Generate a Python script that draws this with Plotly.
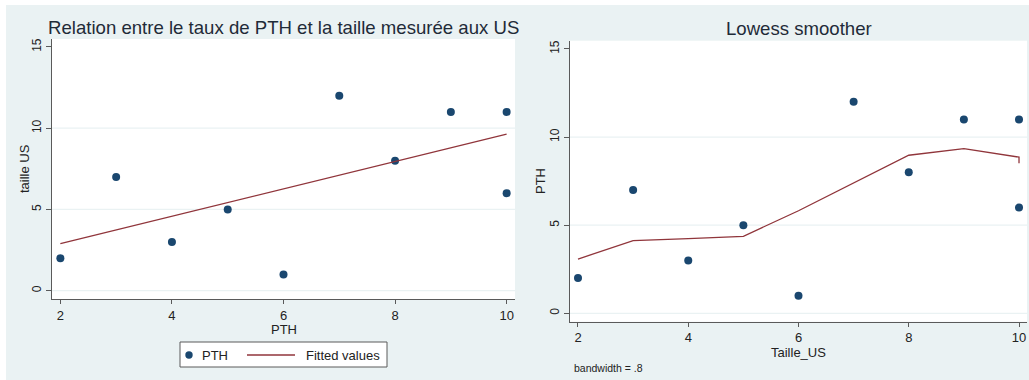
import plotly.graph_objects as go

# Observations: PTH level vs ultrasound size
pth = [2, 3, 4, 5, 6, 7, 8, 9, 10, 10]
taille_us = [2, 7, 3, 5, 1, 12, 8, 11, 11, 6]

# Linear fit (end points of the fitted line)
fit_x = [2, 10]
fit_y = [2.9, 9.64]

# Lowess smoother values (bandwidth = .8)
lowess_x = [2, 3, 4, 5, 6, 7, 8, 9, 10, 10]
lowess_y = [3.08, 4.12, 4.24, 4.37, 5.82, 7.41, 8.97, 9.35, 8.86, 8.52]

y_ticks = [0, 5, 10, 15]
x_ticks = [2, 4, 6, 8, 10]
grid_levels = [0, 5, 10]

W, H = 1029, 380
BG = "#EAF2F3"
NAVY = "#1a476f"
MAROON = "#90353b"
AXIS = "#5a5a5a"
TXT = "#222222"
TITLE = "#1f2b38"
FONT = "Liberation Sans, Arial, sans-serif"


def fx(px):
    return px / W


def fy(py):
    return 1 - py / H


fig = go.Figure()

fig.add_trace(go.Scatter(
    x=pth, y=taille_us, mode="markers", name="PTH",
    marker=dict(color=NAVY, size=8, line=dict(width=0)),
    xaxis="x", yaxis="y"))
fig.add_trace(go.Scatter(
    x=fit_x, y=fit_y, mode="lines", name="Fitted values",
    line=dict(color=MAROON, width=1.3),
    xaxis="x", yaxis="y"))

fig.add_trace(go.Scatter(
    x=pth, y=taille_us, mode="markers", name="PTH",
    marker=dict(color=NAVY, size=8, line=dict(width=0)),
    xaxis="x2", yaxis="y2"))
fig.add_trace(go.Scatter(
    x=lowess_x, y=lowess_y, mode="lines", name="lowess",
    line=dict(color=MAROON, width=1.3),
    xaxis="x2", yaxis="y2"))

common_x = dict(
    tickvals=x_ticks, showgrid=False, zeroline=False,
    showline=True, linecolor=AXIS, linewidth=1.2,
    ticks="outside", ticklen=4, tickcolor=AXIS, tickwidth=1,
    tickfont=dict(family=FONT, size=13, color=TXT),
    fixedrange=True)
common_y = dict(
    tickvals=y_ticks, showgrid=False, zeroline=False,
    showline=True, linecolor=AXIS, linewidth=1.2,
    ticks="outside", ticklen=5, tickcolor=AXIS, tickwidth=1,
    tickangle=-90,
    tickfont=dict(family=FONT, size=12, color=TXT),
    fixedrange=True)

fig.update_layout(
    width=W, height=H,
    margin=dict(l=0, r=0, t=0, b=0),
    paper_bgcolor=BG, plot_bgcolor="white",
    font=dict(family=FONT, color=TXT),
    showlegend=False,
    xaxis=dict(common_x, domain=[fx(52), fx(515)], range=[1.85, 10.15],
               anchor="y"),
    yaxis=dict(common_y, domain=[fy(299), fy(39)], range=[-0.51, 15.49],
               anchor="x"),
    xaxis2=dict(common_x, domain=[fx(570), fx(1027)], range=[1.855, 10.145],
                anchor="y2"),
    yaxis2=dict(common_y, domain=[fy(321.7), fy(40.7)], range=[-0.477, 15.47],
                anchor="x2"),
)

shapes = [
    # white frame strips around the graph region
    dict(type="rect", xref="paper", yref="paper", x0=0, x1=1,
         y0=fy(5), y1=1.01, fillcolor="white", line=dict(width=0),
         layer="above"),
    dict(type="rect", xref="paper", yref="paper", x0=-0.01, x1=fx(6),
         y0=-0.01, y1=1.01, fillcolor="white", line=dict(width=0),
         layer="above"),
]
for ax_x, ax_y in (("x", "y"), ("x2", "y2")):
    for g in grid_levels:
        shapes.append(dict(
            type="line", xref=f"{ax_x} domain", yref=ax_y,
            x0=0, x1=1, y0=g, y1=g,
            line=dict(color=BG, width=1.2), layer="below"))

# legend box for the left panel (marker key + line key)
LEG_Y = 355
shapes += [
    dict(type="rect", xref="paper", yref="paper",
         x0=fx(180), x1=fx(387), y0=fy(367), y1=fy(342),
         fillcolor="white", line=dict(color=AXIS, width=1), layer="above"),
    dict(type="circle", xref="paper", yref="paper",
         x0=fx(185.3), x1=fx(192.7), y0=fy(LEG_Y + 3.7), y1=fy(LEG_Y - 3.7),
         fillcolor=NAVY, line=dict(width=0), layer="above"),
    dict(type="line", xref="paper", yref="paper",
         x0=fx(247), x1=fx(295), y0=fy(LEG_Y), y1=fy(LEG_Y),
         line=dict(color=MAROON, width=1.3), layer="above"),
]
fig.update_layout(shapes=shapes)

annotations = [
    dict(text="Relation entre le taux de PTH et la taille mesurée aux US",
         x=fx(283.5), y=fy(27), font=dict(size=18.6, color=TITLE)),
    dict(text="Lowess smoother",
         x=fx(798.5), y=fy(28), font=dict(size=18.6, color=TITLE)),
    dict(text="taille US", x=fx(25), y=fy(169), textangle=-90,
         font=dict(size=13)),
    dict(text="PTH", x=fx(283.5), y=fy(329), font=dict(size=13)),
    dict(text="PTH", x=fx(540), y=fy(181), textangle=-90,
         font=dict(size=13)),
    dict(text="Taille_US", x=fx(798.5), y=fy(352), font=dict(size=13)),
    dict(text="bandwidth = .8", x=fx(572), y=fy(368), xanchor="left",
         font=dict(size=10.5)),
    dict(text="PTH", x=fx(200), y=fy(LEG_Y), xanchor="left",
         font=dict(size=13)),
    dict(text="Fitted values", x=fx(304), y=fy(LEG_Y), xanchor="left",
         font=dict(size=13)),
]
for a in annotations:
    a.setdefault("xanchor", "center")
    a.update(xref="paper", yref="paper", yanchor="middle", showarrow=False)
    a["font"] = dict(family=FONT, color=a["font"].get("color", TXT),
                     size=a["font"]["size"])
fig.update_layout(annotations=annotations)

fig.write_html("out.html")
